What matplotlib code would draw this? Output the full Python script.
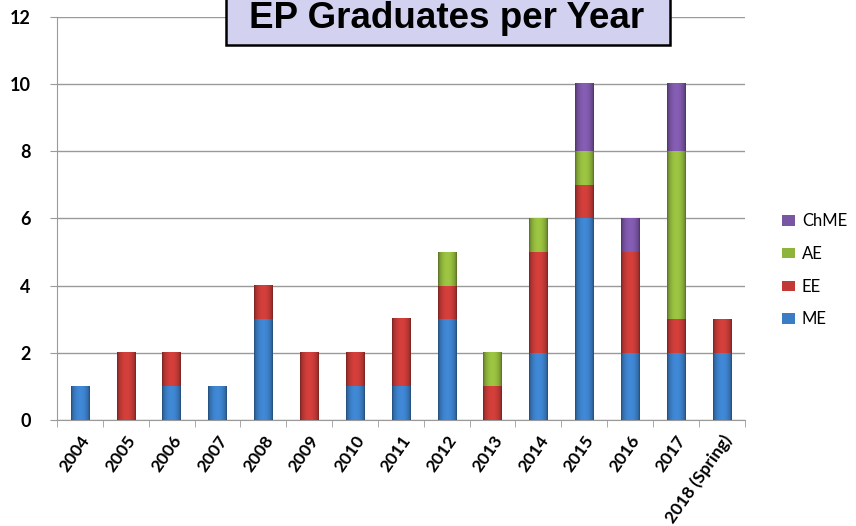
import numpy as np
import matplotlib
matplotlib.use("Agg")
import matplotlib.pyplot as plt
from matplotlib.colors import to_rgb
from matplotlib.patches import Rectangle

years = ["2004", "2005", "2006", "2007", "2008", "2009", "2010", "2011",
         "2012", "2013", "2014", "2015", "2016", "2017", "2018 (Spring)"]
me   = [1, 0, 1, 1, 3, 0, 1, 1, 3, 0, 2, 6, 2, 2, 2]
ee   = [0, 2, 1, 0, 1, 2, 1, 2, 1, 1, 3, 1, 3, 1, 1]
ae   = [0, 0, 0, 0, 0, 0, 0, 0, 1, 1, 1, 1, 0, 5, 0]
chme = [0, 0, 0, 0, 0, 0, 0, 0, 0, 0, 0, 2, 1, 2, 0]
yticks = [0, 2, 4, 6, 8, 10, 12]

series = [("ME", me, "#3b7dc4"), ("EE", ee, "#c23a36"),
          ("AE", ae, "#8fb43c"), ("ChME", chme, "#7a55a4")]

plt.rcParams["font.family"] = ["Lato", "DejaVu Sans"]

fig = plt.figure(figsize=(8.56, 5.26), dpi=100)
ax = fig.add_axes([0.0666, 0.2015, 0.8034, 0.7665])

x = np.arange(len(years))
bottom = np.zeros(len(years))
handles = []


def shade(color):
    # horizontal gradient: dark edges, lighter middle
    base = np.array(to_rgb(color))
    t = np.linspace(0, 1, 64)
    f = 0.55 + 0.55 * np.sin(np.pi * t) ** 0.5
    cols = np.clip(base[None, :] * f[:, None], 0, 1)
    return cols[None, :, :]


for name, vals, col in series:
    vals = np.array(vals, dtype=float)
    bars = ax.bar(x, vals, width=0.4, bottom=bottom, color=col,
                  edgecolor="none", label=name, zorder=2)
    grad = shade(col)
    for p in bars.patches:
        if p.get_height() <= 0:
            continue
        x0, y0 = p.get_x(), p.get_y()
        ax.imshow(grad, extent=[x0, x0 + p.get_width(), y0, y0 + p.get_height()],
                  aspect="auto", interpolation="bilinear", zorder=3)
    handles.append(bars)
    bottom += vals

ax.set_xlim(-0.5, len(years) - 0.5)
ax.set_ylim(0, 12)
ax.set_yticks(yticks)
ax.set_yticklabels([str(v) for v in yticks], fontsize=13, fontweight="bold")
ax.yaxis.grid(True, color="#9a9a9a", linewidth=1.0, zorder=0)
ax.set_axisbelow(True)

ax.set_xticks(x)
ax.set_xticklabels(years, rotation=55, ha="right", va="top",
                   rotation_mode="anchor", fontsize=12.5, fontweight="bold")
ax.tick_params(axis="x", length=0, pad=9)
ax.set_xticks(np.arange(len(years) + 1) - 0.5, minor=True)
ax.tick_params(axis="x", which="minor", length=5, color="#9a9a9a", direction="out")
ax.tick_params(axis="y", length=5, color="#9a9a9a", pad=14)

for s in ["top", "right"]:
    ax.spines[s].set_visible(False)
ax.spines["left"].set_color("#9a9a9a")
ax.spines["bottom"].set_color("#9a9a9a")

leg = fig.legend(handles=handles[::-1], labels=[h.get_label() for h in handles[::-1]],
                 loc="center left", bbox_to_anchor=(0.896, 0.486), frameon=False,
                 fontsize=12, handlelength=0.8, handleheight=0.6,
                 labelspacing=1.0, handletextpad=0.4)

# Title box
fig.patches.append(Rectangle((226 / 856, 1 - 45 / 526), 444 / 856, 60 / 526,
                             transform=fig.transFigure, facecolor="#d2d2f0",
                             edgecolor="black", linewidth=1.8, zorder=5))
fig.text(447 / 856, 1 - 19 / 526, "EP Graduates per Year", ha="center", va="center",
         fontsize=26.5, fontweight="bold", family="Liberation Sans", zorder=6)

fig.savefig("out.png", dpi=100)
